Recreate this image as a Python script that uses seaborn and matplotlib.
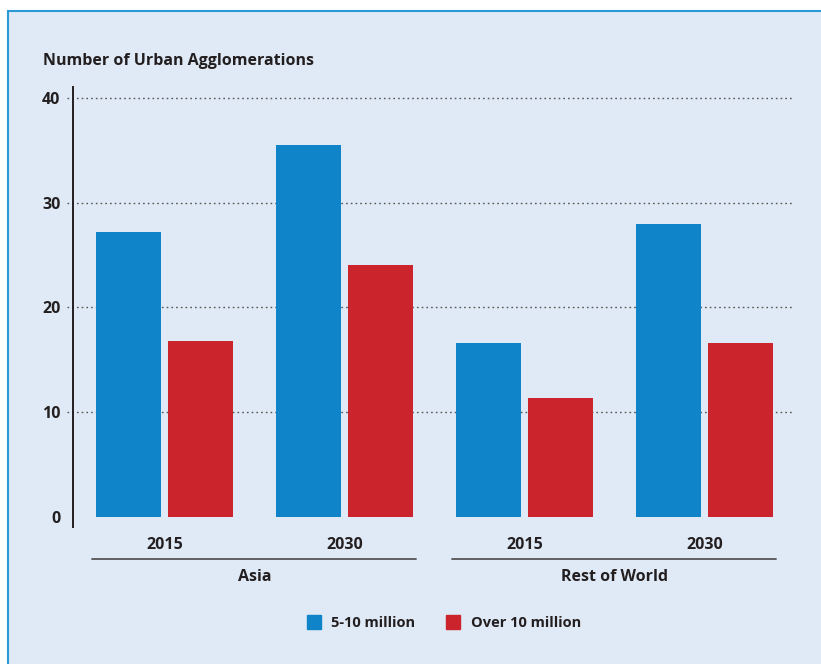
import matplotlib
matplotlib.use("Agg")
import matplotlib.pyplot as plt
from matplotlib.patches import Rectangle
from matplotlib.lines import Line2D
from matplotlib.transforms import blended_transform_factory
import seaborn as sns
import pandas as pd

# ---- data ----
regions = ["Asia", "Asia", "Rest of World", "Rest of World"]
years = ["2015", "2030", "2015", "2030"]
series_names = ["5-10 million", "Over 10 million"]
mid_size = [27.2, 35.5, 16.6, 28.0]
large_size = [16.8, 24.0, 11.3, 16.6]
y_ticks = [0, 10, 20, 30, 40]
group_labels = ["Asia", "Rest of World"]
title = "Number of Urban Agglomerations"

BLUE = "#0f84c8"
RED = "#cb242c"
BG = "#e0eaf6"
BORDER = "#2a9ad6"
TXT = "#231f20"
FONT = ["Open Sans", "DejaVu Sans"]

cats = [f"{r}|{y}" for r, y in zip(regions, years)]
df = pd.DataFrame({
    "cat": cats * 2,
    "value": mid_size + large_size,
    "series": [series_names[0]] * 4 + [series_names[1]] * 4,
})

sns.set_theme(style="white")
plt.rcParams["font.family"] = FONT

fig = plt.figure(figsize=(8.21, 6.64), dpi=100)
fig.patch.set_facecolor("white")
fig.patches.append(Rectangle((7.5 / 821, -0.05), 1.2, 1.05 - 10.5 / 664,
                             transform=fig.transFigure, facecolor=BG,
                             edgecolor=BORDER, linewidth=1.5, zorder=-10))

ax = fig.add_axes([73 / 821, 1 - 527 / 664, 720 / 821, (527 - 87.5) / 664])
ax.set_facecolor("none")

sns.barplot(data=df, x="cat", y="value", hue="series", order=cats,
            hue_order=series_names, palette=[BLUE, RED], width=0.8,
            gap=0.09, saturation=1, ax=ax, legend=False, linewidth=0)

ax.set_xlim(-0.508, 3.492)
ax.set_ylim(-1, 41)
ax.set_yticks(y_ticks)
ax.set_yticklabels([str(t) for t in y_ticks], fontsize=11.5,
                   fontweight="bold", color=TXT)
ax.set_xticks(range(4))
ax.set_xticklabels(years, fontsize=11.5, fontweight="bold", color=TXT)
ax.tick_params(axis="y", length=0, pad=9)
ax.tick_params(axis="x", length=0, pad=7)
ax.set_xlabel("")
ax.set_ylabel("")
for s in ["top", "right", "bottom"]:
    ax.spines[s].set_visible(False)
ax.spines["left"].set_color(TXT)
ax.spines["left"].set_linewidth(1.4)

# dotted gridlines (extend slightly left of the axis)
tr = blended_transform_factory(ax.transAxes, ax.transData)
for t in y_ticks[1:]:
    ax.plot([-0.009, 1.0], [t, t], transform=tr, color="#555555",
            linestyle=(0, (1.2, 2.2)), linewidth=1.0, clip_on=False, zorder=0)

# group separators and labels
tr2 = blended_transform_factory(ax.transData, ax.transAxes)
for i, g in enumerate(group_labels):
    x0 = 2 * i - 0.4
    x1 = 2 * i + 1.4
    ax.plot([x0, x1], [-0.072, -0.072], transform=tr2, color="#555555",
            linewidth=1.3, clip_on=False)
    ax.text((x0 + x1) / 2, -0.113, g, transform=tr2, ha="center", va="center",
            fontsize=11.5, fontweight="bold", color=TXT)

# title
fig.text(43 / 821, 1 - 61 / 664, title, ha="left", va="center",
         fontsize=11.5, fontweight="bold", color=TXT)

# legend
handles = [Line2D([0], [0], marker="s", linestyle="none", markersize=9.5,
                  markerfacecolor=c, markeredgecolor=c) for c in (BLUE, RED)]
leg = fig.legend(handles, series_names, loc="center",
                 bbox_to_anchor=(440 / 821, 1 - 623 / 664), ncol=2,
                 frameon=False, handletextpad=0.2, columnspacing=1.6,
                 prop={"size": 10.5, "weight": "bold"})
for t in leg.get_texts():
    t.set_color(TXT)

fig.savefig("out.png", dpi=100, facecolor=fig.get_facecolor())
